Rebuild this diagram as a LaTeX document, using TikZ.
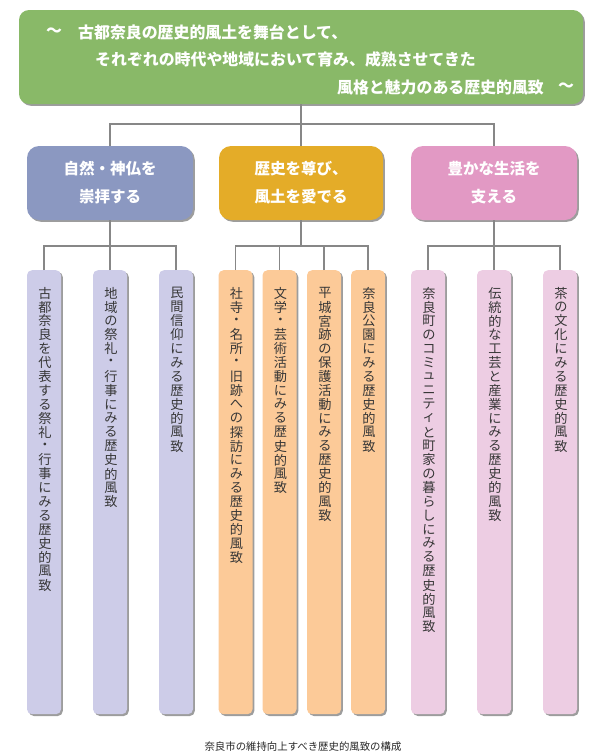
\documentclass[tikz,border=0pt]{standalone}
\usepackage{fontspec}
\usetikzlibrary{shadows,calc}
\newfontfamily\jp{Noto Sans CJK JP}
\definecolor{topgreen}{RGB}{137,185,104}
\definecolor{catblue}{RGB}{139,152,193}
\definecolor{catyellow}{RGB}{228,172,40}
\definecolor{catpink}{RGB}{226,153,196}
\definecolor{barblue}{RGB}{205,204,232}
\definecolor{barorange}{RGB}{252,202,152}
\definecolor{barpink}{RGB}{237,205,227}
\definecolor{linegray}{RGB}{135,135,135}
\definecolor{bartxt}{RGB}{55,55,55}
\makeatletter
\newdimen\vt@pitch \vt@pitch=13.9pt
\def\vt@end{\vt@end}
\newcommand\vtext[1]{\vbox{\offinterlineskip\vt@loop#1\vt@end}}
\def\vt@loop#1{\ifx#1\vt@end\else\vbox to\vt@pitch{\vss\hbox to 1em{\hss#1\hss}\vss}\expandafter\vt@loop\fi}
\makeatother
\begin{document}
\begin{tikzpicture}[x=1pt,y=-1pt,
  shad/.style={drop shadow={shadow xshift=1.8pt,shadow yshift=-1.8pt,fill=black!55,opacity=0.7}},
  topbox/.style={fill=topgreen, rounded corners=10pt, shad, minimum width=564pt, minimum height=94pt, inner sep=0pt},
  catbox/.style={rounded corners=12pt, shad, minimum width=166pt, minimum height=74pt, inner sep=0pt, text=white, font=\jp\bfseries\fontsize{15.5}{28}\selectfont, align=center},
  bar/.style={rounded corners=5pt, shad, minimum width=34pt, minimum height=444pt, inner sep=0pt, anchor=north},
  bartext/.style={anchor=north, inner sep=0pt, text=bartxt, font=\jp\fontsize{13.2}{14}\selectfont},
  conn/.style={draw=linegray, line width=1.4pt},
  toptext/.style={text=white, font=\jp\bfseries\fontsize{15.9}{18}\selectfont, inner sep=0pt}
]
\useasboundingbox (0,0) rectangle (604,756);
\coordinate (jt) at (301,124);
\coordinate (ja) at (110,246);
\coordinate (jb) at (301,246);
\coordinate (jc) at (494,246);

% top box
\node[topbox] (top) at (301,57) {};
\node[toptext, anchor=west] (t1a) at (46,32) {～};
\node[toptext, anchor=west] (t1) at (78,32) {古都奈良の歴史的風土を舞台として、};
\node[toptext, anchor=west] (t2) at (95,59) {それぞれの時代や地域において育み、成熟させてきた};
\node[toptext, anchor=east] (t3) at (544,87) {風格と魅力のある歴史的風致};
\node[toptext, anchor=west] (t3b) at (558,87) {～};

% categories
\node[catbox, fill=catblue] (ca) at (110,183) {自然・神仏を\\崇拝する};
\node[catbox, fill=catyellow, minimum width=164pt] (cb) at (301,183) {歴史を尊び、\\風土を愛でる};
\node[catbox, fill=catpink] (cc) at (494,183) {豊かな生活を\\支える};

% bars
\node[bar, fill=barblue] (a1) at (44,270) {};
\node[bar, fill=barblue] (a2) at (110,270) {};
\node[bar, fill=barblue] (a3) at (176,270) {};
\node[bar, fill=barorange] (b1) at (235.5,270) {};
\node[bar, fill=barorange] (b2) at (279.5,270) {};
\node[bar, fill=barorange] (b3) at (324,270) {};
\node[bar, fill=barorange] (b4) at (368,270) {};
\node[bar, fill=barpink] (c1) at (428,270) {};
\node[bar, fill=barpink] (c2) at (494,270) {};
\node[bar, fill=barpink] (c3) at (560,270) {};

\node[bartext] (a1t) at ($(a1.north)+(1,16)$) {\vtext{古都奈良を代表する祭礼・行事にみる歴史的風致}};
\node[bartext] (a2t) at ($(a2.north)+(1,16)$) {\vtext{地域の祭礼・行事にみる歴史的風致}};
\node[bartext] (a3t) at ($(a3.north)+(1,16)$) {\vtext{民間信仰にみる歴史的風致}};
\node[bartext] (b1t) at ($(b1.north)+(1,16)$) {\vtext{社寺・名所・旧跡への探訪にみる歴史的風致}};
\node[bartext] (b2t) at ($(b2.north)+(1,16)$) {\vtext{文学・芸術活動にみる歴史的風致}};
\node[bartext] (b3t) at ($(b3.north)+(1,16)$) {\vtext{平城宮跡の保護活動にみる歴史的風致}};
\node[bartext] (b4t) at ($(b4.north)+(1,16)$) {\vtext{奈良公園にみる歴史的風致}};
\node[bartext] (c1t) at ($(c1.north)+(1,16)$) {\vtext{奈良町のコミュニティと町家の暮らしにみる歴史的風致}};
\node[bartext] (c2t) at ($(c2.north)+(1,16)$) {\vtext{伝統的な工芸と産業にみる歴史的風致}};
\node[bartext] (c3t) at ($(c3.north)+(1,16)$) {\vtext{茶の文化にみる歴史的風致}};

% connectors
\draw[conn] (top.south) -- (jt);
\draw[conn] (ca.north) |- (jt);
\draw[conn] (cb.north) -- (jt);
\draw[conn] (cc.north) |- (jt);
\draw[conn] (ca.south) -- (ja);
\draw[conn] (a1.north) |- (ja);
\draw[conn] (a2.north) -- (ja);
\draw[conn] (a3.north) |- (ja);
\draw[conn] (cb.south) -- (jb);
\draw[conn] (b1.north) |- (jb);
\draw[conn] (b2.north) |- (jb);
\draw[conn] (b3.north) |- (jb);
\draw[conn] (b4.north) |- (jb);
\draw[conn] (cc.south) -- (jc);
\draw[conn] (c1.north) |- (jc);
\draw[conn] (c2.north) -- (jc);
\draw[conn] (c3.north) |- (jc);

% caption
\node[font=\jp\fontsize{10.4}{12}\selectfont, text=black!85, inner sep=0pt] (cap) at (303,747) {奈良市の維持向上すべき歴史的風致の構成};
\end{tikzpicture}
\end{document}
